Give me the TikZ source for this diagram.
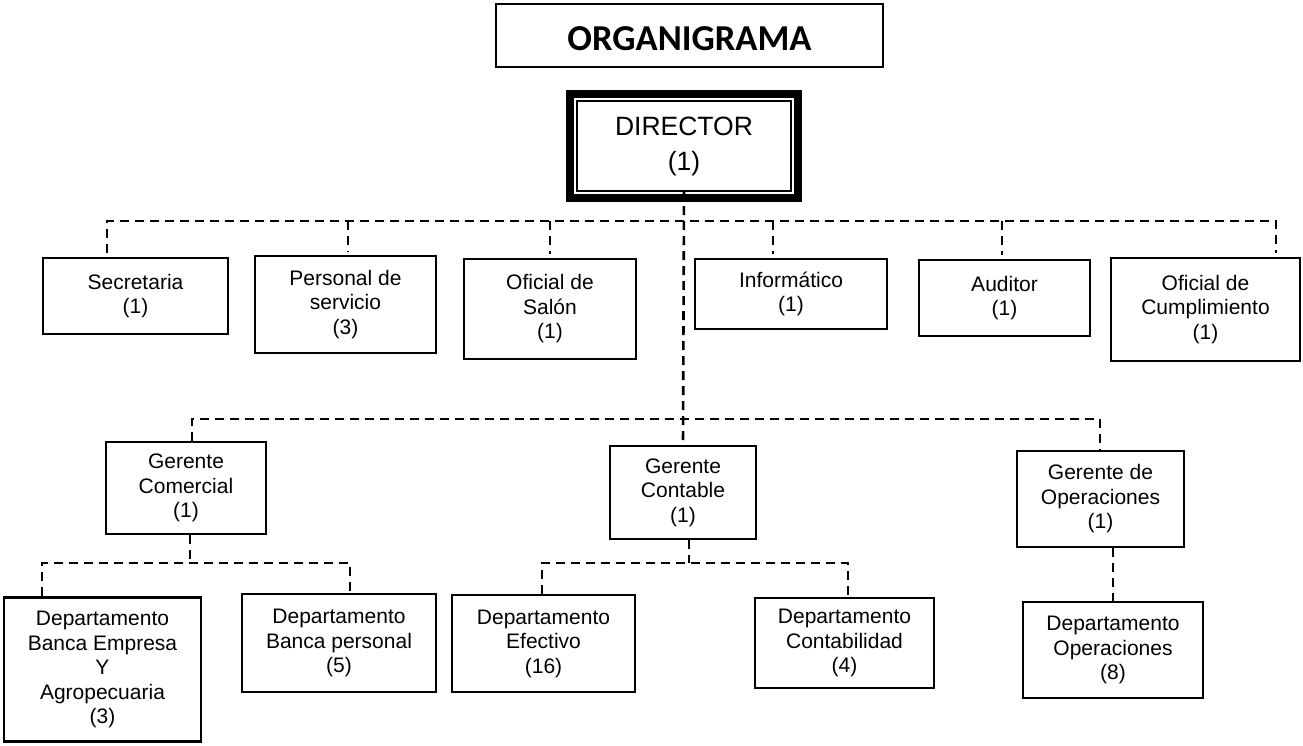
\documentclass[tikz,border=0pt]{standalone}
\usepackage{fontspec}
\setmainfont{Liberation Sans}
\newfontfamily\titlefont{Carlito}
\begin{document}
\begin{tikzpicture}[x=1pt,y=-1pt,
  box/.style={draw, line width=2.8pt, align=center, inner sep=0pt,
    font=\fontsize{21}{24.5}\selectfont},
  dl/.style={line width=2.6pt, dash pattern=on 9pt off 6pt},
  thickframe/.style={line width=8pt},
  thinframe/.style={line width=2pt}]
\fill[white] (0,0) rectangle (1303,745);
\useasboundingbox (0,0) rectangle (1303,745);

% title
\node[draw, line width=2pt, minimum width=387pt, minimum height=63pt, inner sep=0pt,
  text height=30pt, text depth=0pt,
  font=\titlefont\bfseries\fontsize{36.5}{40}\selectfont] (title) at (689.5,35.5) {ORGANIGRAMA};

% director
\node[minimum width=236pt, minimum height=112pt, inner sep=0pt, align=center,
  font=\fontsize{26.5}{35}\selectfont] (director) at (684,146) {DIRECTOR\\(1)};
\draw[thickframe] ([shift={(4,4)}]director.north west) rectangle ([shift={(-4,-4)}]director.south east);
\draw[thinframe] ([shift={(11,11)}]director.north west) rectangle ([shift={(-11,-11)}]director.south east);

% first row
\node[box, minimum width=185pt, minimum height=76pt] (sec) at (135.5,296) {Secretaria\\(1)};
\node[box, minimum width=181pt, minimum height=97pt] (pers) at (345.5,304.5) {Personal de\\servicio\\(3)};
\node[box, minimum width=172pt, minimum height=100pt] (ofsal) at (550,309) {Oficial de\\Salón\\(1)};
\node[box, minimum width=192pt, minimum height=70pt] (info) at (791,294) {Informático\\(1)};
\node[box, minimum width=171pt, minimum height=76pt] (aud) at (1004.5,298) {Auditor\\(1)};
\node[box, minimum width=189pt, minimum height=103pt] (ofcum) at (1205.5,309.5) {Oficial de\\Cumplimiento\\(1)};

% managers
\node[box, minimum width=160pt, minimum height=92pt] (gcom) at (186,488) {Gerente\\Comercial\\(1)};
\node[box, minimum width=146pt, minimum height=93pt] (gcon) at (683,492.5) {Gerente\\Contable\\(1)};
\node[box, minimum width=167pt, minimum height=96pt] (gop) at (1100.5,499) {Gerente de\\Operaciones\\(1)};

% departments
\node[box, minimum width=197pt, minimum height=144pt] (dbe) at (102.5,669.5) {Departamento\\Banca Empresa\\Y\\Agropecuaria\\(3)};
\node[box, minimum width=194pt, minimum height=98pt] (dbp) at (339,643) {Departamento\\Banca personal\\(5)};
\node[box, minimum width=183pt, minimum height=97pt] (def) at (543.5,643.5) {Departamento\\Efectivo\\(16)};
\node[box, minimum width=179pt, minimum height=90pt] (dcon) at (844.5,643) {Departamento\\Contabilidad\\(4)};
\node[box, minimum width=180pt, minimum height=96pt] (dop) at (1113,650) {Departamento\\Operaciones\\(8)};

% junction coordinates
\coordinate (r1a) at (107,221);
\coordinate (r1b) at (348,221);
\coordinate (r1c) at (550,221);
\coordinate (r1d) at (773,221);
\coordinate (r1e) at (1002,221);
\coordinate (r1f) at (1276,221);
\coordinate (r2a) at (192,419);
\coordinate (r2b) at (1100,419);
\coordinate (c1) at (190,563);
\coordinate (c1a) at (42,563);
\coordinate (c1b) at (350,563);
\coordinate (c2) at (689,563);
\coordinate (c2a) at (542,563);
\coordinate (c2b) at (848,563);

% connectors
\draw[dl] ([yshift=11pt]director.south) -- (gcon.north);
\draw[dl, shorten <=4pt, shorten >=4pt] (r1a |- sec.north) -- (r1a) -- (r1f) -- (r1f |- ofcum.north);
\draw[dl, shorten >=3pt] (r1b) -- (r1b |- pers.north);
\draw[dl, shorten >=4pt] (r1c) -- (r1c |- ofsal.north);
\draw[dl, shorten >=4pt] (r1d) -- (r1d |- info.north);
\draw[dl, shorten >=4pt] (r1e) -- (r1e |- aud.north);

\draw[dl] (r2a |- gcom.north) -- (r2a) -- (r2b) -- (r2b |- gop.north);

\draw[dl] (c1 |- gcom.south) -- (c1);
\draw[dl] (c1a |- dbe.north) -- (c1a) -- (c1b) -- (c1b |- dbp.north);

\draw[dl] (c2 |- gcon.south) -- (c2);
\draw[dl] (c2a |- def.north) -- (c2a) -- (c2b) -- (c2b |- dcon.north);

\draw[dl] (dop.north |- gop.south) -- (dop.north);
\end{tikzpicture}
\end{document}
